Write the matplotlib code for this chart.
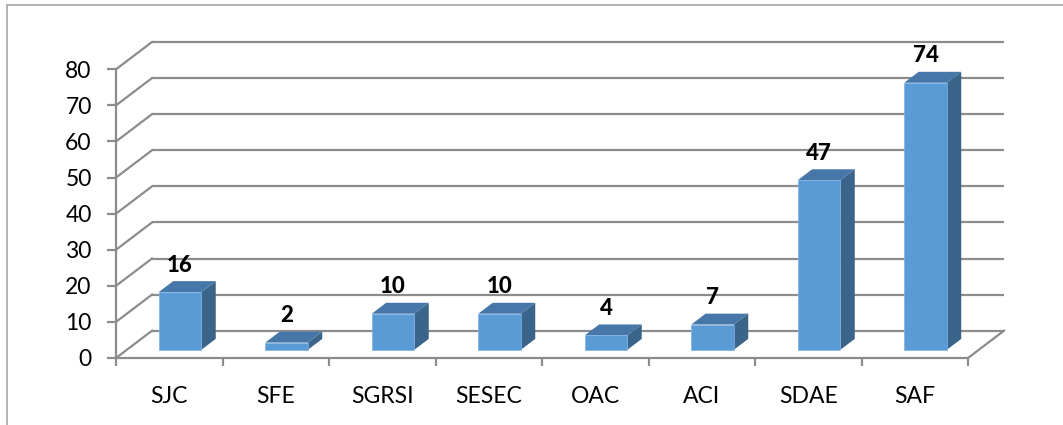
import numpy as np
import matplotlib.pyplot as plt
from matplotlib.patches import Polygon, Rectangle

# datos del grafico
categorias = ['SJC', 'SFE', 'SGRSI', 'SESEC', 'OAC', 'ACI', 'SDAE', 'SAF']
valores = [16, 2, 10, 10, 4, 7, 47, 74]
ticks_y = list(range(0, 90, 10))

plt.rcParams['font.family'] = ['Lato', 'DejaVu Sans']

W, H = 1063, 425
fig = plt.figure(figsize=(W / 100, H / 100), dpi=100)

# escala en pixeles
px_cat = 106.5        # pixeles por categoria
px_val = 3.609        # pixeles por unidad
x0_px, y0_px = 116, 358
ax_w = 1010 - x0_px
ax_h = y0_px - 30
ax = fig.add_axes([x0_px / W, (H - y0_px) / H, ax_w / W, ax_h / H])
ax.set_xlim(0, ax_w / px_cat)
ax.set_ylim(0, ax_h / px_val)

# profundidad oblicua
DX = 36 / px_cat
DY = 27.3 / px_val

def P(x, v, z):
    return (x + z * DX, v + z * DY)

gris = '#8C8C8C'
n = len(categorias)

# pared del fondo y pared lateral
for v in ticks_y:
    a, b = P(0, v, 1), P(n, v, 1)
    ax.plot([a[0], b[0]], [a[1], b[1]], color=gris, lw=1.6, zorder=1, solid_capstyle='butt')
    a, b = P(0, v, 0), P(0, v, 1)
    ax.plot([a[0], b[0]], [a[1], b[1]], color=gris, lw=1.6, zorder=1)
# piso lado derecho
a, b = P(n, 0, 0), P(n, 0, 1)
ax.plot([a[0], b[0]], [a[1], b[1]], color=gris, lw=1.6, zorder=1)

# barras 3D
c_frente, c_arriba, c_lado = '#5B9BD5', '#4677A8', '#3A6489'
ancho, z0, z1 = 0.4, 0.3, 0.7
for i, v in enumerate(valores):
    xa = i + 0.5 - ancho / 2
    xb = i + 0.5 + ancho / 2
    frente = [P(xa, 0, z0), P(xb, 0, z0), P(xb, v, z0), P(xa, v, z0)]
    arriba = [P(xa, v, z0), P(xb, v, z0), P(xb, v, z1), P(xa, v, z1)]
    lado = [P(xb, 0, z0), P(xb, 0, z1), P(xb, v, z1), P(xb, v, z0)]
    ax.add_patch(Polygon(lado, closed=True, facecolor=c_lado, edgecolor='none', zorder=3))
    ax.add_patch(Polygon(arriba, closed=True, facecolor=c_arriba, edgecolor='none', zorder=3))
    ax.add_patch(Polygon(frente, closed=True, facecolor=c_frente, edgecolor='#7FB3E3', lw=0.5, zorder=4))
    lx, _ = P(i + 0.5, v, z0)
    _, ly = P(i + 0.5, v, z1)
    ax.text(lx, ly + 4.4, str(v), ha='center', va='center', fontsize=16,
            fontweight='black', color='black', zorder=5)

# ejes
for s in ['top', 'right']:
    ax.spines[s].set_visible(False)
ax.spines['left'].set_bounds(0, 80)
ax.spines['bottom'].set_bounds(0, n)
for s in ['left', 'bottom']:
    ax.spines[s].set_color(gris)
    ax.spines[s].set_linewidth(1.6)

ax.set_yticks(ticks_y)
ax.tick_params(axis='y', length=6.5, width=1.6, color=gris, pad=11, labelsize=16.5)
ax.set_xticks(np.arange(n) + 0.5)
ax.set_xticklabels(categorias)
ax.set_xticks(np.arange(n + 1), minor=True)
ax.tick_params(axis='x', which='major', length=0, pad=20, labelsize=16.5)
ax.tick_params(axis='x', which='minor', length=5.5, width=1.6, color=gris)

# marco exterior
fig.patches.append(Rectangle((7 / W, -0.1), 1.2, (H - 5) / H + 0.1, transform=fig.transFigure,
                             fill=False, edgecolor='#A6A6A6', lw=1.2))

fig.savefig('out.png', dpi=100)
